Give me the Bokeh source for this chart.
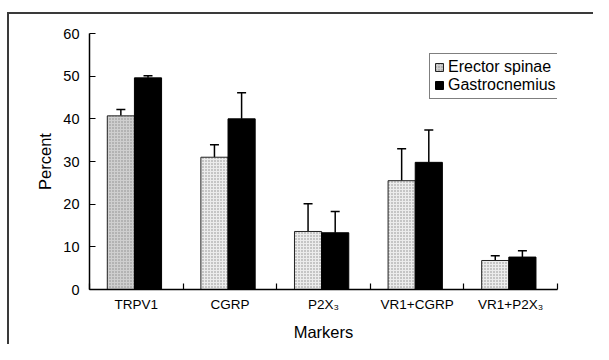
from bokeh.plotting import figure
from bokeh.models import (ColumnDataSource, FixedTicker, Whisker, TeeHead,
                          Legend, LegendItem, Range1d)
from bokeh.embed import file_html
from bokeh.resources import INLINE

# ---- data ----
markers = ["TRPV1", "CGRP", "P2X\u2083", "VR1+CGRP", "VR1+P2X\u2083"]
erector = [40.7, 31.0, 13.6, 25.5, 6.8]
erector_err = [1.5, 2.9, 6.5, 7.5, 1.1]
gastro = [49.6, 40.0, 13.3, 29.8, 7.6]
gastro_err = [0.5, 6.1, 5.0, 7.6, 1.5]
y_ticks = [0, 10, 20, 30, 40, 50, 60]

# ---- style ----
FONT = "Liberation Sans"
erector_fill = ["#cfcfcf", "#ececec", "#ececec", "#ececec", "#ececec"]
W, H = 593, 344
BAR_W = 0.29
OFF_E, OFF_G = 0.335, 0.625
FRAME_LINE = ("linear-gradient(#3a3a3a,#3a3a3a) 7px 12px / 100% 2px no-repeat, "
              "linear-gradient(#3a3a3a,#3a3a3a) 7px 12px / 2px 100% no-repeat, "
              "#ffffff")

n = len(markers)
centers = [i + 0.5 for i in range(n)]
xe = [i + OFF_E for i in range(n)]
xg = [i + OFF_G for i in range(n)]

src_e = ColumnDataSource(dict(x=xe, top=erector,
                              up=[v + e for v, e in zip(erector, erector_err)],
                              fill=erector_fill))
src_g = ColumnDataSource(dict(x=xg, top=gastro,
                              up=[v + e for v, e in zip(gastro, gastro_err)]))

p = figure(width=W, height=H, output_backend="svg", toolbar_location=None,
           x_range=Range1d(0, n), y_range=Range1d(0, 60),
           min_border_left=89, min_border_right=36,
           min_border_top=33, min_border_bottom=55,
           styles={"background": FRAME_LINE})
p.outline_line_color = None
p.grid.visible = False
p.background_fill_color = "white"
p.border_fill_alpha = 0

re = p.vbar(x="x", top="top", width=BAR_W, bottom=0, source=src_e,
            fill_color="fill", line_color="#222222", line_width=1,
            hatch_pattern="dot", hatch_color="#8a8a8a", hatch_scale=3,
            hatch_weight=1)
rg = p.vbar(x="x", top="top", width=BAR_W, bottom=0, source=src_g,
            fill_color="black", line_color="black", line_width=1)

for src in (src_e, src_g):
    p.add_layout(Whisker(base="x", lower="top", upper="up", source=src,
                         line_color="black", line_width=1.5,
                         upper_head=TeeHead(size=9, line_width=1.5,
                                            line_color="black"),
                         lower_head=None, level="underlay"))

# axes
xa = p.xaxis[0]
xa.ticker = FixedTicker(ticks=centers, minor_ticks=list(range(n + 1)))
xa.major_label_overrides = {c: m for c, m in zip(centers, markers)}
xa.major_tick_line_color = None
xa.major_tick_in = 0
xa.major_tick_out = 0
xa.minor_tick_in = 6
xa.minor_tick_out = 0
xa.minor_tick_line_color = "black"
xa.minor_tick_line_width = 1.2
xa.axis_line_width = 1.5
xa.axis_line_color = "black"
xa.major_label_text_font = FONT
xa.major_label_text_font_size = "13.5px"
xa.major_label_text_color = "black"
xa.major_label_standoff = 7
xa.axis_label = "Markers"
xa.axis_label_text_font = FONT
xa.axis_label_text_font_size = "16.5px"
xa.axis_label_text_font_style = "normal"
xa.axis_label_text_color = "black"
xa.axis_label_standoff = 8

ya = p.yaxis[0]
ya.ticker = FixedTicker(ticks=y_ticks)
ya.minor_tick_line_color = None
ya.major_tick_in = 6
ya.major_tick_out = 0
ya.major_tick_line_color = "black"
ya.major_tick_line_width = 1.2
ya.axis_line_width = 1.5
ya.axis_line_color = "black"
ya.major_label_text_font = FONT
ya.major_label_text_font_size = "14.5px"
ya.major_label_text_color = "black"
ya.major_label_standoff = 10
ya.axis_label = "Percent"
ya.axis_label_text_font = FONT
ya.axis_label_text_font_size = "16.5px"
ya.axis_label_text_font_style = "normal"
ya.axis_label_text_color = "black"
ya.axis_label_standoff = 6

legend = Legend(items=[LegendItem(label="Erector spinae", renderers=[re]),
                       LegendItem(label="Gastrocnemius", renderers=[rg])],
                location=(340, 190), orientation="vertical")
legend.border_line_color = "black"
legend.border_line_width = 1.2
legend.background_fill_color = "white"
legend.background_fill_alpha = 1
legend.label_text_font = FONT
legend.label_text_font_size = "16px"
legend.label_text_color = "black"
legend.glyph_width = 10
legend.glyph_height = 10
legend.label_standoff = 4
legend.label_width = 116
legend.label_height = 16
legend.padding = 4
legend.spacing = 0
legend.margin = 0
p.add_layout(legend, "center")

open("out.html", "w").write(file_html(p, INLINE))
